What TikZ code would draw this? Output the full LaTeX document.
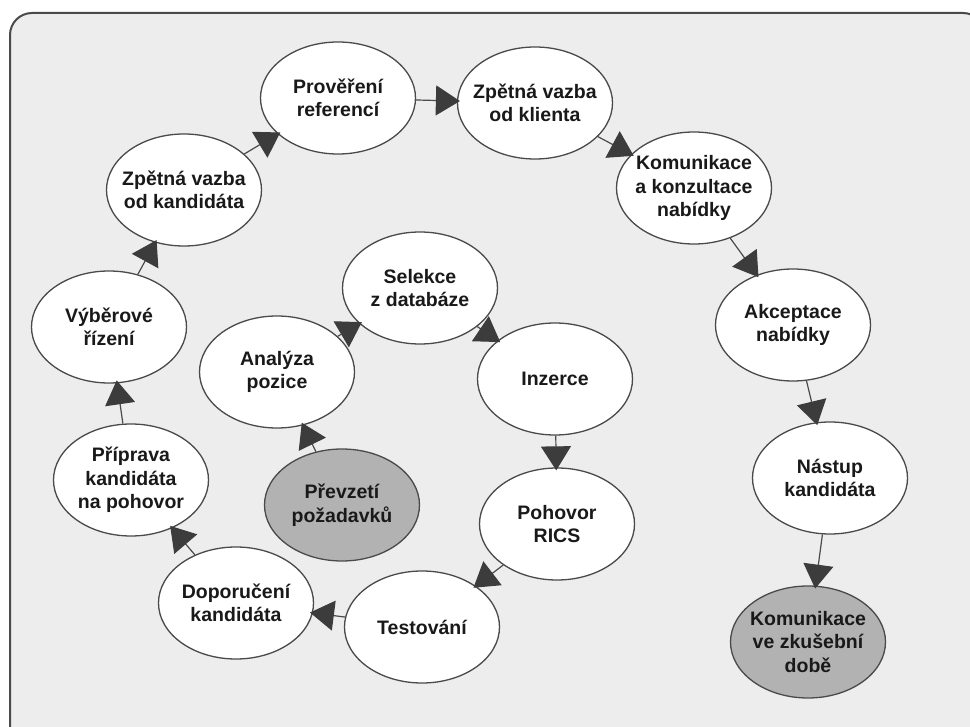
\documentclass[tikz,border=0pt]{standalone}
\usepackage{fontspec}
\setmainfont{Liberation Sans}
\usetikzlibrary{shapes.geometric,arrows.meta}
\definecolor{panel_gray}{HTML}{EDEDED}
\definecolor{rim_gray}{HTML}{4A4A4A}
\definecolor{start_gray}{HTML}{B2B2B2}
\definecolor{tip_gray}{HTML}{3C3C3C}
\tikzset{process_node/.style={ellipse, draw=rim_gray, line width=1.3pt, fill=white, minimum width=155pt, minimum height=112pt, inner xsep=-14pt, inner ysep=0pt, align=center, text=black!90, font=\bfseries\fontsize{19.5}{23.5}\selectfont}}
\tikzset{shaded_node/.style={process_node, fill=start_gray}}
\tikzset{flow_edge/.style={draw=rim_gray, line width=1.2pt, shorten >=-3pt, -{Triangle[length=24pt,width=30pt,color=tip_gray]}}}

\begin{document}
\begin{tikzpicture}[x=1pt,y=-1pt]
    \useasboundingbox (0,0) rectangle (970,727);
    \clip (0,0) rectangle (970,727);
    \fill[white] (0,0) rectangle (970,727);
    \draw[rim_gray, line width=2pt, fill=panel_gray, rounded corners=22pt] (10,13) rectangle (985,748);
    % inner loop
    \node[shaded_node] (takeover) at (342,505) {Převzetí\\požadavků};
    \node[process_node] (analysis) at (277,372) {Analýza\\pozice};
    \node[process_node] (selection) at (420,288) {Selekce\\z databáze};
    \node[process_node] (advert) at (555,379) {Inzerce};
    \node[process_node] (rics) at (557,524) {Pohovor\\RICS};
    \node[process_node] (testing) at (422,627) {Testování};
    \node[process_node] (recommend) at (236,603) {Doporučení\\kandidáta};
    % outer arc
    \node[process_node] (prep) at (131,480) {Příprava\\kandidáta\\na pohovor};
    \node[process_node] (selproc) at (109,327) {Výběrové\\řízení};
    \node[process_node] (candfb) at (184,190) {Zpětná vazba\\od kandidáta};
    \node[process_node] (refs) at (338,98) {Prověření\\referencí};
    \node[process_node] (clientfb) at (535,103) {Zpětná vazba\\od klienta};
    \node[process_node] (offer) at (694,188) {Komunikace\\a konzultace\\nabídky};
    \node[process_node] (accept) at (793,325) {Akceptace\\nabídky};
    \node[process_node] (arrival) at (830,478) {Nástup\\kandidáta};
    \node[shaded_node] (trial) at (808,642) {Komunikace\\ve zkušební\\době};
    % connectors
    \foreach \a/\b in {takeover/analysis, analysis/selection, selection/advert, advert/rics, rics/testing, testing/recommend, recommend/prep, prep/selproc, selproc/candfb, candfb/refs, refs/clientfb, clientfb/offer, offer/accept, accept/arrival, arrival/trial}
      \draw[flow_edge] (\a) -- (\b);
\end{tikzpicture}
\end{document}
